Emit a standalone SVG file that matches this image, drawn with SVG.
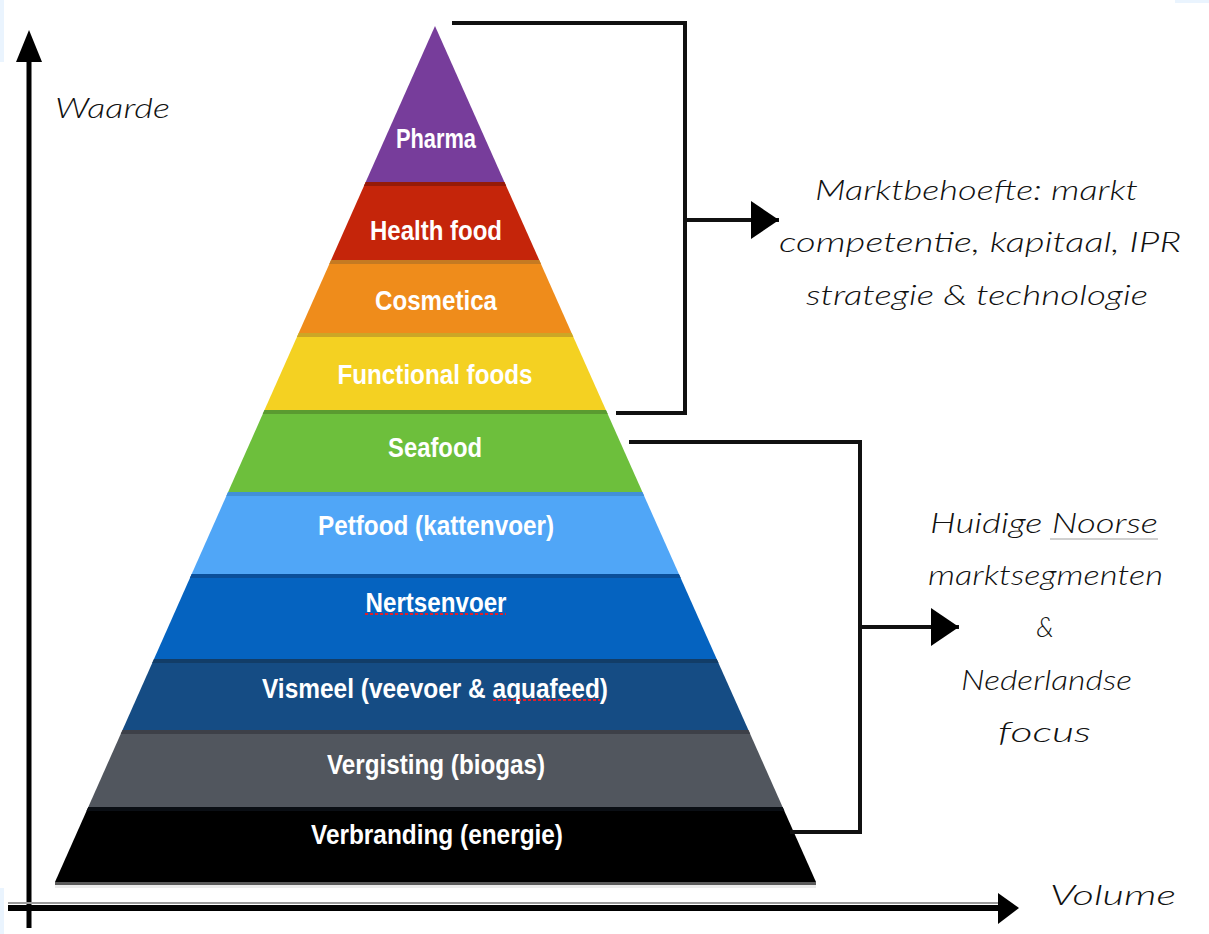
<svg xmlns="http://www.w3.org/2000/svg" width="1209" height="934" viewBox="0 0 1209 934">
<defs>
<style>
.lbl{font-family:"Liberation Sans",Arial,sans-serif;font-weight:bold;fill:#ffffff;text-anchor:middle;font-size:28px}
.hw{font-family:Lato,"Liberation Sans",Arial,sans-serif;font-style:italic;font-weight:300;fill:#111111;font-size:27px}
.conn{fill:none;stroke:#111;stroke-width:4}
.axis{stroke:#000;stroke-width:5;fill:none}
.squig{stroke:#e0202a;stroke-width:2;stroke-dasharray:3 2}
</style>
<marker id="ah" markerUnits="userSpaceOnUse" markerWidth="30" markerHeight="40" refX="28" refY="19" orient="auto">
<polygon points="0,0 28,19 0,38" fill="#000"/>
</marker>
</defs>
<rect x="0" y="0" width="1209" height="934" fill="#ffffff"/>
<rect x="0" y="0" width="4" height="62" fill="#eaf4fe"/>
<rect x="0" y="888" width="4" height="46" fill="#eaf4fe"/>
<rect x="1175" y="0" width="34" height="3" fill="#eaf4fe"/>

<g id="axes">
<line class="axis" x1="29" y1="58" x2="29" y2="928"/>
<polygon points="29,30 16,62 42,62" fill="#000"/>
<line x1="8" y1="903" x2="1000" y2="903" stroke="#9a9a9a" stroke-width="2"/>
<line x1="8" y1="908" x2="1000" y2="908" stroke="#000" stroke-width="6"/>
<polygon points="1019,908 998,893 998,924" fill="#000"/>
<text class="hw" x="55" y="118" font-size="30" textLength="115" lengthAdjust="spacingAndGlyphs">Waarde</text>
<text class="hw" x="1050" y="905" font-size="34" textLength="126" lengthAdjust="spacingAndGlyphs">Volume</text>
</g>

<g id="band-pharma">
<polygon points="435,26 504.4,182 365.7,182" fill="#773d9b"/>
<text class="lbl" x="436" y="148" font-size="22" textLength="80" lengthAdjust="spacingAndGlyphs">Pharma</text>
</g>
<g id="band-healthfood">
<polygon points="365.7,182 504.4,182 539.2,260 331.1,260" fill="#c5250a"/>
<polygon points="365.7,182 504.4,182 506.2,186 363.9,186" fill="#951a08"/>
<text class="lbl" x="436" y="240" textLength="132" lengthAdjust="spacingAndGlyphs">Health food</text>
</g>
<g id="band-cosmetica">
<polygon points="331.1,260 539.2,260 571.6,333 298.7,333" fill="#ef8c1b"/>
<polygon points="331.1,260 539.2,260 541,264 329.3,264" fill="#c57a22"/>
<text class="lbl" x="436" y="310" textLength="122" lengthAdjust="spacingAndGlyphs">Cosmetica</text>
</g>
<g id="band-functionalfoods">
<polygon points="298.7,333 571.6,333 605.9,410 264.5,410" fill="#f4d122"/>
<polygon points="298.7,333 571.6,333 573.4,337 296.9,337" fill="#cca626"/>
<text class="lbl" x="435" y="384" textLength="195" lengthAdjust="spacingAndGlyphs">Functional foods</text>
</g>
<g id="band-seafood">
<polygon points="264.5,410 605.9,410 642.4,492 228.1,492" fill="#6dbf3c"/>
<polygon points="264.5,410 605.9,410 607.7,414 262.7,414" fill="#5a9a30"/>
<text class="lbl" x="435" y="457" textLength="94" lengthAdjust="spacingAndGlyphs">Seafood</text>
</g>
<g id="band-petfood">
<polygon points="228.1,492 642.4,492 678.9,574 191.7,574" fill="#50a6f7"/>
<polygon points="228.1,492 642.4,492 644.2,496 226.3,496" fill="#4290d8"/>
<text class="lbl" x="436" y="535" textLength="236" lengthAdjust="spacingAndGlyphs">Petfood (kattenvoer)</text>
</g>
<g id="band-nertsenvoer">
<polygon points="191.7,574 678.9,574 716.7,659 154,659" fill="#0563c0"/>
<polygon points="191.7,574 678.9,574 680.7,578 189.9,578" fill="#0a4f9a"/>
<text class="lbl" x="436" y="612" textLength="141" lengthAdjust="spacingAndGlyphs">Nertsenvoer</text>
<line class="squig" x1="365" y1="614" x2="506" y2="614"/>
</g>
<g id="band-vismeel">
<polygon points="154,659 716.7,659 748.4,730 122.5,730" fill="#154c84"/>
<polygon points="154,659 716.7,659 718.5,663 152.2,663" fill="#123d68"/>
<text class="lbl" x="435" y="698" textLength="346" lengthAdjust="spacingAndGlyphs">Vismeel (veevoer &amp; aquafeed)</text>
<line class="squig" x1="493" y1="700" x2="600" y2="700" stroke="#b03050"/>
</g>
<g id="band-vergisting">
<polygon points="122.5,730 748.4,730 782.6,807 88.3,807" fill="#51565e"/>
<polygon points="122.5,730 748.4,730 750.2,734 120.7,734" fill="#3d4048"/>
<text class="lbl" x="436" y="774" textLength="218" lengthAdjust="spacingAndGlyphs">Vergisting (biogas)</text>
</g>
<g id="band-verbranding">
<polygon points="88.3,807 782.6,807 816,882 55,882" fill="#000000"/>
<polygon points="88.3,807 782.6,807 784.4,811 86.5,811" fill="#0a0e14"/>
<rect x="55" y="882" width="761" height="3" fill="#5a5a5a"/>
<rect x="55" y="885" width="761" height="3" fill="#ececec"/>
<text class="lbl" x="437" y="844" textLength="252" lengthAdjust="spacingAndGlyphs">Verbranding (energie)</text>
</g>

<g id="connectors">
<polyline class="conn" points="452,23 685,23 685,413 616,413"/>
<line class="conn" x1="685" y1="220" x2="779" y2="220" marker-end="url(#ah)"/>
<polyline class="conn" points="629,442 860,442 860,832 790,832"/>
<line class="conn" x1="860" y1="627" x2="959" y2="627" marker-end="url(#ah)"/>
</g>

<g id="note-marktbehoefte">
<text class="hw" x="815" y="200" textLength="323" lengthAdjust="spacingAndGlyphs">Marktbehoefte: markt</text>
<text class="hw" x="779" y="252" textLength="402" lengthAdjust="spacingAndGlyphs">competentie, kapitaal, IPR</text>
<text class="hw" x="806" y="305" textLength="342" lengthAdjust="spacingAndGlyphs">strategie &amp; technologie</text>
</g>
<g id="note-huidige">
<text class="hw" x="930" y="533" font-size="26" textLength="228" lengthAdjust="spacingAndGlyphs">Huidige Noorse</text>
<line x1="1050" y1="539" x2="1158" y2="539" stroke="#d0d0d0" stroke-width="2"/>
<text class="hw" x="928" y="585" font-size="26" textLength="235" lengthAdjust="spacingAndGlyphs">marktsegmenten</text>
<text class="hw" x="1045" y="637" font-size="26" text-anchor="middle">&amp;</text>
<text class="hw" x="961" y="690" font-size="28" textLength="171" lengthAdjust="spacingAndGlyphs">Nederlandse</text>
<text class="hw" x="998" y="742" font-size="28" textLength="93" lengthAdjust="spacingAndGlyphs">focus</text>
</g>
</svg>
